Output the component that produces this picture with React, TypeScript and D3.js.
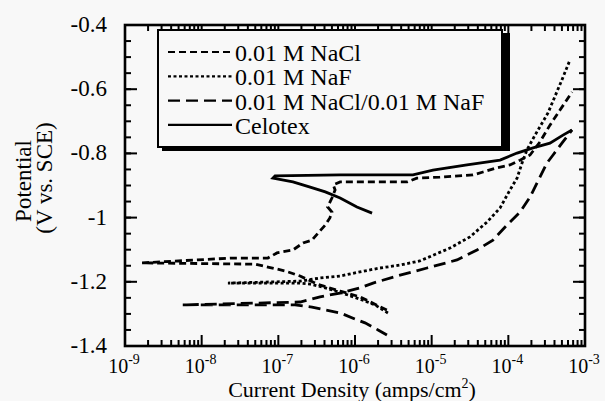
import React from "react";
import * as d3 from "d3";

const W = 605;
const H = 401;
const margin = { l: 125, r: 20, t: 25, b: 55 };
const FONT = '"Liberation Serif", "Times New Roman", Times, serif';

// current density (amps/cm2) and potential (V vs. SCE), scan order cathodic -> anodic
const naclCurrent = [2.6e-6, 1.16e-6, 6.4e-7, 3.2e-7, 1.92e-7, 1.22e-7, 7.3e-8, 5.0e-8, 1.67e-9, 2.5e-8, 7.3e-8, 9.6e-8, 1.55e-7, 2.1e-7, 2.75e-7, 3.3e-7, 4.1e-7, 4.7e-7, 5.0e-7, 4.4e-7, 5.0e-7, 5.5e-7, 5.2e-7, 6.4e-7, 2.12e-6, 4.77e-6, 6.4e-6, 1.28e-5, 3.46e-5, 4.67e-5, 7.1e-5, 1.05e-4, 1.42e-4, 1.92e-4, 2.59e-4, 3.49e-4, 4.72e-4, 6.77e-4];
const naclPotential = [-1.288, -1.247, -1.229, -1.207, -1.182, -1.166, -1.154, -1.145, -1.141, -1.126, -1.126, -1.110, -1.101, -1.079, -1.070, -1.048, -1.023, -1.001, -0.983, -0.967, -0.939, -0.914, -0.898, -0.889, -0.889, -0.889, -0.877, -0.874, -0.867, -0.858, -0.845, -0.836, -0.821, -0.805, -0.764, -0.712, -0.665, -0.609];

const nafCurrent = [2.69e-6, 1.82e-6, 1.16e-6, 6.8e-7, 4.1e-7, 2.6e-7, 1.92e-7, 2.2e-8, 1.92e-7, 3.5e-7, 6.4e-7, 1.16e-6, 2.12e-6, 3.86e-6, 7.0e-6, 1.73e-5, 3.16e-5, 5.27e-5, 7.8e-5, 1.05e-4, 1.3e-4, 1.51e-4, 1.75e-4, 2.23e-4, 3.29e-4, 5.0e-4, 6.37e-4];
const nafPotential = [-1.297, -1.272, -1.254, -1.235, -1.219, -1.207, -1.204, -1.204, -1.198, -1.188, -1.182, -1.169, -1.157, -1.148, -1.135, -1.095, -1.060, -1.014, -0.970, -0.914, -0.877, -0.830, -0.789, -0.743, -0.674, -0.571, -0.509];

const mixCurrent = [2.61e-6, 2.0e-6, 1.35e-6, 1.0e-6, 6.4e-7, 4.1e-7, 2.75e-7, 1.65e-7, 5.5e-9, 1.92e-7, 3.5e-7, 6.4e-7, 1.16e-6, 1.72e-6, 3.53e-6, 8.7e-6, 2.14e-5, 3.9e-5, 6.3e-5, 9.6e-5, 1.42e-4, 1.92e-4, 2.37e-4, 3.19e-4, 3.83e-4, 5.0e-4, 6.77e-4];
const mixPotential = [-1.366, -1.350, -1.328, -1.316, -1.297, -1.288, -1.279, -1.272, -1.272, -1.263, -1.247, -1.235, -1.219, -1.204, -1.182, -1.157, -1.132, -1.101, -1.070, -1.023, -0.983, -0.936, -0.892, -0.830, -0.805, -0.768, -0.727];

const celotexCurrent = [1.67e-6, 1.06e-6, 6.4e-7, 4.1e-7, 2.6e-7, 1.55e-7, 8.5e-8, 9.06e-8, 6.4e-7, 5.7e-6, 1.04e-5, 2.89e-5, 7.8e-5, 1.3e-4, 2.1e-4, 3.49e-4, 5.16e-4, 6.77e-4];
const celotexPotential = [-0.986, -0.967, -0.939, -0.920, -0.905, -0.889, -0.877, -0.870, -0.867, -0.867, -0.852, -0.836, -0.821, -0.799, -0.783, -0.768, -0.743, -0.727];

const legendLabels = ["0.01 M NaCl", "0.01 M NaF", "0.01 M NaCl/0.01 M NaF", "Celotex"];
const xTickExponents = [-9, -8, -7, -6, -5, -4, -3];
const yTickValues = [-0.4, -0.6, -0.8, -1, -1.2, -1.4];
const yTickLabels = ["-0.4", "-0.6", "-0.8", "-1", "-1.2", "-1.4"];

const series = [
  { cur: naclCurrent, pot: naclPotential, dash: "7,4" },
  { cur: nafCurrent, pot: nafPotential, dash: "3,2.5" },
  { cur: mixCurrent, pot: mixPotential, dash: "12,6" },
  { cur: celotexCurrent, pot: celotexPotential, dash: null },
];

export default function App() {
  const x = d3.scaleLog().domain([1e-9, 1e-3]).range([margin.l, W - margin.r]);
  const y = d3.scaleLinear().domain([-1.4, -0.4]).range([H - margin.b, margin.t]);
  const x0 = margin.l, x1 = W - margin.r, y0 = margin.t, y1 = H - margin.b;

  const line = d3.line<[number, number]>().x((d) => x(d[0])).y((d) => y(d[1]));

  // minor log ticks 2..9 in each decade
  const xMinor: number[] = [];
  for (let e = -9; e < -3; e++) for (let k = 2; k <= 9; k++) xMinor.push(k * Math.pow(10, e));
  const yMinor = d3.range(0, 21).map((i) => -1.4 + i * 0.05);

  const txt = { fontFamily: FONT };

  return (
    <svg width={W} height={H} style={{ position: "fixed", left: 0, top: 0, background: "#f8f8f8", fontFamily: FONT }}>
      <rect x={0} y={0} width={W} height={H} fill="#f8f8f8" />

      {/* curves */}
      <g fill="none" stroke="#000" strokeWidth={2.8}>
        {series.map((s, i) => (
          <path key={i} d={line(s.cur.map((c, j) => [c, s.pot[j]] as [number, number])) || ""}
            strokeDasharray={s.dash || undefined} />
        ))}
      </g>

      {/* ticks */}
      <g stroke="#000" strokeWidth={2}>
        {xMinor.map((v, i) => (
          <g key={"xm" + i}>
            <line x1={x(v)} x2={x(v)} y1={y1} y2={y1 - 6} />
            <line x1={x(v)} x2={x(v)} y1={y0} y2={y0 + 6} />
          </g>
        ))}
        {xTickExponents.map((e) => (
          <g key={"xM" + e}>
            <line x1={x(Math.pow(10, e))} x2={x(Math.pow(10, e))} y1={y1} y2={y1 - 11} />
            <line x1={x(Math.pow(10, e))} x2={x(Math.pow(10, e))} y1={y0} y2={y0 + 11} />
          </g>
        ))}
        {yMinor.map((v, i) => (
          <g key={"ym" + i}>
            <line x1={x0} x2={x0 + 6} y1={y(v)} y2={y(v)} />
            <line x1={x1} x2={x1 - 6} y1={y(v)} y2={y(v)} />
          </g>
        ))}
        {yTickValues.map((v) => (
          <g key={"yM" + v}>
            <line x1={x0} x2={x0 + 12} y1={y(v)} y2={y(v)} />
            <line x1={x1} x2={x1 - 12} y1={y(v)} y2={y(v)} />
          </g>
        ))}
      </g>

      {/* legend */}
      <rect x={162} y={33} width={348} height={118} fill="#000" />
      <rect x={158} y={30} width={344} height={117} fill="#f8f8f8" stroke="#000" strokeWidth={2} />
      {legendLabels.map((lab, i) => {
        const ly = 52 + i * 24.3;
        return (
          <g key={lab}>
            <line x1={168} x2={232} y1={ly} y2={ly} stroke="#000" strokeWidth={2.2}
              strokeDasharray={series[i].dash || undefined} />
            <text x={235} y={ly + 9} fontSize={24} style={txt}>{lab}</text>
          </g>
        );
      })}

      {/* frame */}
      <rect x={x0} y={y0} width={x1 - x0} height={y1 - y0} fill="none" stroke="#000" strokeWidth={2.6} />

      {/* tick labels */}
      {yTickValues.map((v, i) => (
        <text key={"yl" + v} x={107} y={y(v) + 7} fontSize={23} textAnchor="end" style={txt}>{yTickLabels[i]}</text>
      ))}
      {xTickExponents.map((e) => (
        <text key={"xl" + e} x={x(Math.pow(10, e)) - 1} y={373} fontSize={20} textAnchor="middle" style={txt}>
          10<tspan fontSize={14} dy={-9}>{e}</tspan>
        </text>
      ))}

      {/* axis titles */}
      <text transform="translate(31,181) rotate(-90)" fontSize={23} textAnchor="middle" style={txt}>Potential</text>
      <text transform="translate(52,178) rotate(-90)" fontSize={23} textAnchor="middle" style={txt}>(V vs. SCE)</text>
      <text x={352} y={397} fontSize={22} textAnchor="middle" style={txt}>
        Current Density (amps/cm<tspan fontSize={14} dy={-9}>2</tspan><tspan dy={9}>)</tspan>
      </text>
    </svg>
  );
}
